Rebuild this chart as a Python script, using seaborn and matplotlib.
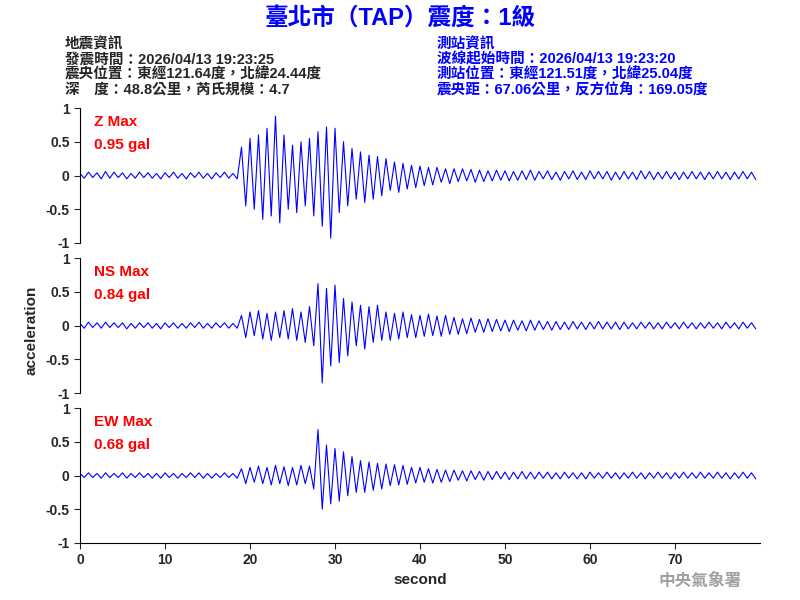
import numpy as np
import pandas as pd
import matplotlib
matplotlib.use("Agg")
import matplotlib.pyplot as plt
import seaborn as sns

sns.set_style("white")
plt.rcParams['font.family'] = ['Liberation Sans', 'Noto Sans CJK TC', 'DejaVu Sans']

# samples every 0.5 s, read approximately from the reference trace peaks
z_vals = [0.03,-0.04,0.05,-0.03,0.04,-0.05,0.06,-0.04,0.05,-0.03,
          0.04,-0.05,0.03,-0.04,0.05,-0.03,0.04,-0.04,0.03,-0.05,
          0.04,-0.03,0.05,-0.04,0.03,-0.05,0.04,-0.03,0.05,-0.04,
          0.03,-0.05,0.04,-0.03,0.05,-0.04,0.03,-0.05,
          0.42,-0.45,0.55,-0.5,0.6,-0.65,0.7,-0.6,0.88,-0.7,
          0.6,-0.5,0.45,-0.55,0.5,-0.45,0.55,-0.6,0.65,-0.75,
          0.72,-0.93,0.7,-0.55,0.5,-0.45,0.4,-0.35,0.35,-0.4,
          0.3,-0.35,0.28,-0.3,0.25,-0.22,0.2,-0.25,0.18,-0.2,
          0.15,-0.18,0.14,-0.15,0.12,-0.14,0.12,-0.1,0.1,-0.12,
          0.1,-0.09,0.1,-0.08,0.09,-0.1,0.08,-0.09,0.07,-0.08,
          0.08,-0.07,0.07,-0.08,0.06,-0.07,0.07,-0.06,0.08,-0.07,
          0.06,-0.05,0.07,-0.06,0.05,-0.07,0.06,-0.05,0.07,-0.06,
          0.05,-0.06,0.07,-0.05,0.06,-0.05,0.06,-0.07,0.05,-0.06,
          0.06,-0.05,0.05,-0.06,0.07,-0.05,0.06,-0.06,0.05,-0.05,
          0.06,-0.05,0.05,-0.06,0.05,-0.05,0.06,-0.05,0.05,-0.06,
          0.05,-0.05,0.06,-0.05,0.05,-0.06,0.05,-0.05,0.06,-0.05,
          0.05,-0.06,0.05,-0.05,0.06,-0.05,0.05,-0.05]
ns_vals = [0.03,-0.04,0.05,-0.03,0.04,-0.04,0.05,-0.03,0.04,-0.03,
           0.04,-0.05,0.03,-0.04,0.04,-0.03,0.04,-0.04,0.03,-0.05,
           0.04,-0.03,0.04,-0.04,0.03,-0.04,0.04,-0.03,0.05,-0.04,
           0.03,-0.04,0.04,-0.03,0.04,-0.04,0.03,-0.04,
           0.15,-0.18,0.2,-0.15,0.22,-0.2,0.18,-0.22,0.2,-0.18,
           0.22,-0.2,0.25,-0.22,0.2,-0.25,0.28,-0.3,0.62,-0.85,
           0.55,-0.6,0.6,-0.55,0.4,-0.45,0.35,-0.3,0.3,-0.35,
           0.28,-0.25,0.3,-0.22,0.2,-0.22,0.18,-0.2,0.2,-0.18,
           0.16,-0.18,0.15,-0.16,0.17,-0.15,0.14,-0.16,0.15,-0.13,
           0.12,-0.13,0.1,-0.12,0.11,-0.1,0.09,-0.1,0.1,-0.09,
           0.09,-0.08,0.08,-0.09,0.08,-0.07,0.07,-0.08,0.08,-0.07,
           0.07,-0.06,0.06,-0.07,0.06,-0.06,0.05,-0.06,0.06,-0.05,
           0.05,-0.06,0.05,-0.05,0.06,-0.05,0.05,-0.05,0.05,-0.06,
           0.05,-0.05,0.04,-0.05,0.05,-0.04,0.05,-0.05,0.04,-0.05,
           0.05,-0.04,0.04,-0.05,0.05,-0.04,0.04,-0.05,0.04,-0.04,
           0.05,-0.04,0.04,-0.05,0.05,-0.04,0.04,-0.05,0.05,-0.04,
           0.04,-0.05,0.05,-0.04,0.04,-0.05,0.05,-0.04]
ew_vals = [0.03,-0.03,0.04,-0.03,0.03,-0.04,0.04,-0.03,0.03,-0.03,
           0.04,-0.04,0.03,-0.03,0.04,-0.03,0.03,-0.04,0.03,-0.04,
           0.04,-0.03,0.03,-0.04,0.03,-0.03,0.04,-0.03,0.04,-0.04,
           0.03,-0.04,0.03,-0.03,0.04,-0.03,0.03,-0.04,
           0.1,-0.12,0.12,-0.1,0.14,-0.12,0.12,-0.14,0.15,-0.12,
           0.13,-0.15,0.12,-0.14,0.15,-0.12,0.14,-0.2,0.68,-0.5,
           0.45,-0.42,0.4,-0.38,0.35,-0.3,0.28,-0.25,0.22,-0.25,
           0.2,-0.22,0.18,-0.2,0.17,-0.15,0.16,-0.14,0.15,-0.13,
           0.12,-0.11,0.12,-0.1,0.1,-0.11,0.09,-0.1,0.08,-0.09,
           0.08,-0.07,0.07,-0.08,0.07,-0.06,0.06,-0.07,0.06,-0.06,
           0.06,-0.05,0.05,-0.06,0.05,-0.05,0.06,-0.05,0.05,-0.05,
           0.05,-0.04,0.05,-0.05,0.04,-0.05,0.05,-0.04,0.04,-0.05,
           0.04,-0.05,0.05,-0.04,0.04,-0.04,0.05,-0.04,0.04,-0.05,
           0.04,-0.04,0.05,-0.04,0.04,-0.05,0.04,-0.04,0.05,-0.04,
           0.04,-0.05,0.04,-0.04,0.05,-0.04,0.04,-0.04,0.05,-0.04,
           0.04,-0.04,0.05,-0.04,0.04,-0.05,0.04,-0.04,0.05,-0.04,
           0.04,-0.05,0.04,-0.04,0.05,-0.04,0.04,-0.05]
N = 160
channels = [("Z Max", "0.95 gal", z_vals[:N]), ("NS Max", "0.84 gal", ns_vals[:N]), ("EW Max", "0.68 gal", ew_vals[:N])]

fig = plt.figure(figsize=(8, 6), dpi=100)
bottoms = [0.595, 0.345, 0.095]
for i, ((name, val, vals), b) in enumerate(zip(channels, bottoms)):
    ax = fig.add_axes([0.1, b, 0.85, 0.225])
    t = np.arange(len(vals)) * 0.5
    df = pd.DataFrame({"t": t, "a": vals})
    sns.lineplot(data=df, x="t", y="a", ax=ax, color="blue", linewidth=0.8)
    ax.set_xlim(0, 80)
    ax.set_ylim(-1, 1)
    ax.set_yticks([-1, -0.5, 0, 0.5, 1])
    ax.set_yticklabels(["-1", "-0.5", "0", "0.5", "1"], fontweight="bold")
    ax.tick_params(axis='both', labelsize=10, length=4, direction='out', left=True, bottom=(i == 2))
    for s in ["top", "right"]:
        ax.spines[s].set_visible(False)
    for s in ax.spines.values():
        s.set_color("black")
    ax.set_ylabel("")
    ax.set_xlabel("")
    if i < 2:
        ax.spines["bottom"].set_visible(False)
        ax.set_xticks([])
    else:
        ax.set_xticks(range(0, 80, 10))
        ax.set_xticklabels([str(v) for v in range(0, 80, 10)], fontweight="bold")
        ax.set_xlabel("second", fontsize=11, fontweight="bold")
    ax.text(0.02, 0.95, name, transform=ax.transAxes, color="red", fontsize=11, fontweight="bold", va="top")
    ax.text(0.02, 0.78, val, transform=ax.transAxes, color="red", fontsize=11, fontweight="bold", va="top")

fig.text(0.04, 0.45, "acceleration", rotation=90, fontsize=11, fontweight="bold", ha="center", va="center")
fig.text(0.5, 0.97, "臺北市（TAP）震度：1級", color="blue", fontsize=17, fontweight="bold", ha="center", va="center")
left = ["地震資訊", "發震時間：2026/04/13 19:23:25", "震央位置：東經121.64度，北緯24.44度", "深　度：48.8公里，芮氏規模：4.7"]
right = ["測站資訊", "波線起始時間：2026/04/13 19:23:20", "測站位置：東經121.51度，北緯25.04度", "震央距：67.06公里，反方位角：169.05度"]
for k, (l, r) in enumerate(zip(left, right)):
    y = 1 - (44 + 15.3 * k) / 600
    fig.text(0.081, y, l, fontsize=10.5, fontweight="bold", va="center")
    fig.text(0.546, y, r, fontsize=10.5, fontweight="bold", color="blue", va="center")
fig.text(0.875, 0.032, "中央氣象署", fontsize=12, fontweight="bold", color="#a0a0a0", ha="center", va="center")
fig.savefig("out.png", dpi=100)
